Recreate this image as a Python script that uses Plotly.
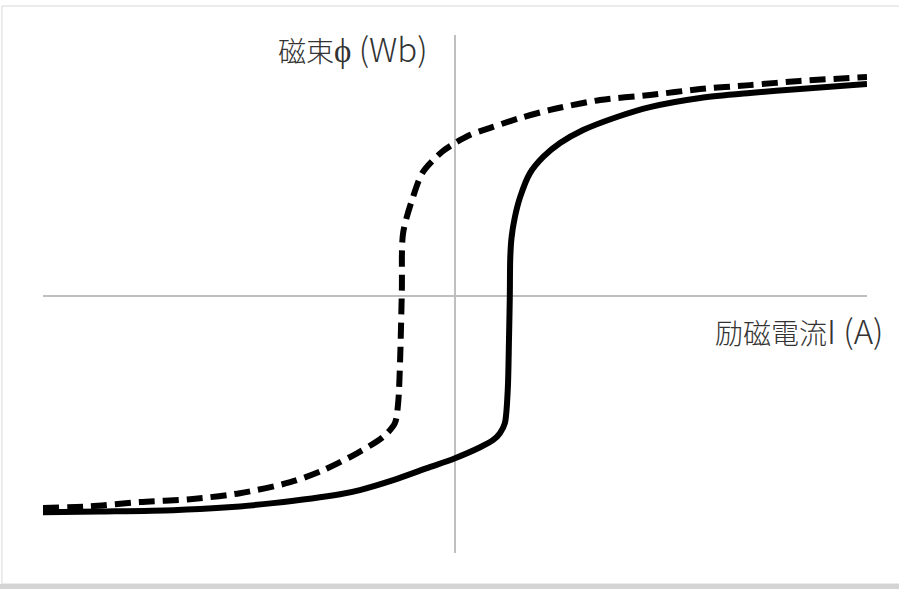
import plotly.graph_objects as go

# Solid curve (ascending branch)
solid_I = [-1.0, -0.862, -0.684, -0.560, -0.442, -0.279, -0.231, -0.150, -0.068, 0.0, 0.061, 0.092,
           0.109, 0.121, 0.128, 0.131, 0.133, 0.134, 0.137, 0.145, 0.158, 0.182, 0.214, 0.255, 0.311,
           0.393, 0.473, 0.595, 0.716, 0.837, 1.0]
solid_phi = [-0.828, -0.825, -0.820, -0.810, -0.793, -0.759, -0.743, -0.705, -0.659, -0.621, -0.579, -0.552,
             -0.525, -0.487, -0.360, -0.169, -0.004, 0.140, 0.220, 0.300, 0.379, 0.471, 0.533, 0.586, 0.636,
             0.686, 0.724, 0.759, 0.778, 0.793, 0.812]

# Dashed curve (descending branch)
dash_I = [-1.0, -0.886, -0.765, -0.643, -0.522, -0.400, -0.320, -0.238, -0.175, -0.146, -0.138,
          -0.133, -0.129, -0.126, -0.102, -0.078, -0.032, 0.0, 0.036, 0.092, 0.158, 0.231, 0.352,
          0.473, 0.595, 0.716, 0.837, 1.0]
dash_phi = [-0.812, -0.805, -0.789, -0.778, -0.755, -0.713, -0.667, -0.602, -0.540, -0.487, -0.410,
            -0.234, 0.023, 0.241, 0.379, 0.475, 0.552, 0.586, 0.617, 0.648, 0.682, 0.713, 0.751,
            0.770, 0.793, 0.808, 0.824, 0.839]

y_label = "磁束<span style='font-size:33px'>ϕ (Wb)</span>"
x_label = "励磁電流<span style='font-size:33px'>I (A)</span>"

fig = go.Figure()
fig.add_trace(go.Scatter(x=dash_I, y=dash_phi, mode="lines",
                         line=dict(color="black", width=6, dash="16px,8px", shape="spline", smoothing=0.8),
                         showlegend=False, hoverinfo="skip"))
fig.add_trace(go.Scatter(x=solid_I, y=solid_phi, mode="lines",
                         line=dict(color="black", width=6, shape="spline", smoothing=0.8),
                         showlegend=False, hoverinfo="skip"))

fig.update_xaxes(range=[-1, 1], showgrid=False, showticklabels=False, ticks="",
                 zeroline=True, zerolinecolor="#bfbfbf", zerolinewidth=2, showline=False)
fig.update_yaxes(range=[-0.984, 1.0], showgrid=False, showticklabels=False, ticks="",
                 zeroline=True, zerolinecolor="#bfbfbf", zerolinewidth=2, showline=False)

font = dict(family="Noto Sans CJK JP", size=28, color="#333333", weight=300)
fig.add_annotation(text=y_label, xref="paper", yref="paper", x=0.47, y=0.975,
                   xanchor="right", yanchor="middle", showarrow=False, font=font)
fig.add_annotation(text=x_label, xref="paper", yref="paper", x=1.022, y=0.4305,
                   xanchor="right", yanchor="middle", showarrow=False, font=font)

# outer frame
fig.add_shape(type="rect", xref="paper", yref="paper", x0=-0.0498, x1=1.05, y0=-0.0598, y1=1.056,
              line=dict(color="#d9d9d9", width=1), layer="below")
fig.add_shape(type="rect", xref="paper", yref="paper", x0=-0.06, x1=1.05, y0=-0.0598, y1=-0.075,
              line=dict(width=0), fillcolor="#d4d4d4", layer="below")

fig.update_layout(width=899, height=589, margin=dict(l=43, r=32, t=35, b=36),
                  plot_bgcolor="white", paper_bgcolor="white")

fig.write_html("out.html", config={"displayModeBar": False},
               post_script="document.body.style.margin='0';")
